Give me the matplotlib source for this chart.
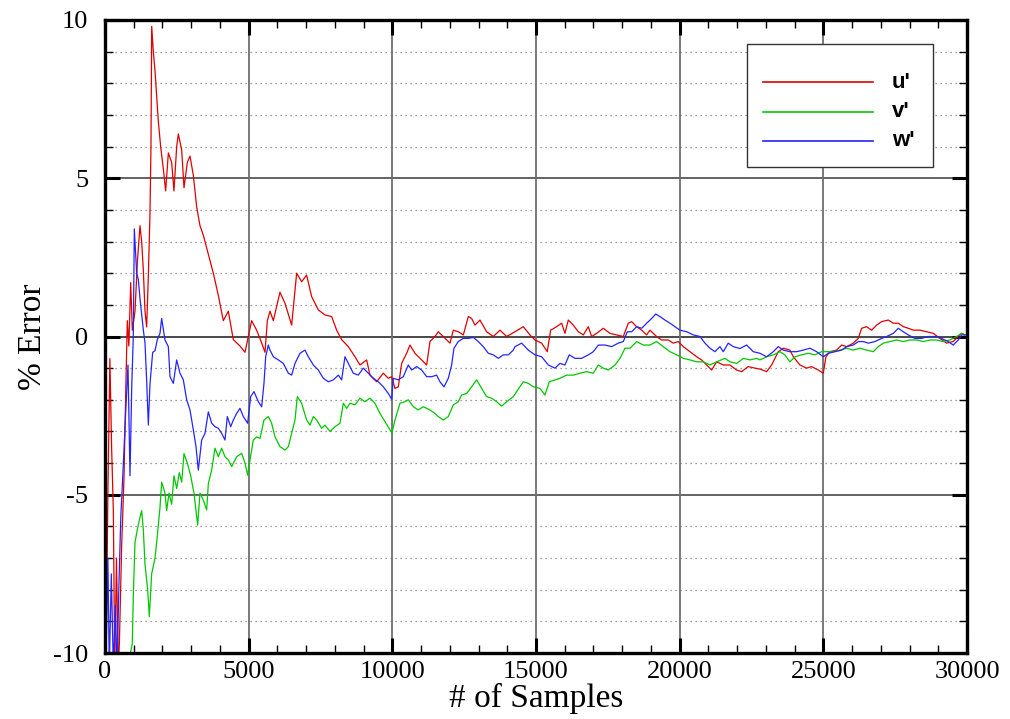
import matplotlib
matplotlib.use("Agg")
import matplotlib.pyplot as plt
from matplotlib.patches import Rectangle
from matplotlib.ticker import MultipleLocator

plt.rcParams["axes.unicode_minus"] = False

# ---------------- data ----------------
u_x = [30, 100, 170, 230, 290, 340, 400, 460, 500, 580, 660, 730, 777, 830, 894, 951, 1044, 1130, 1218, 1276,
       1334, 1392, 1450, 1508, 1566, 1600, 1625, 1682, 1740, 1856, 1937, 2030, 2110, 2205, 2320, 2400, 2495,
       2552, 2668, 2750, 2865, 2958, 3073, 3190, 3306, 3422, 3597, 3770, 3944, 4117, 4291, 4466, 4698, 4872,
       4988, 5104, 5278, 5452, 5568, 5650, 5742, 5858, 6090, 6264, 6496, 6670, 6844, 7018, 7192, 7424, 7656,
       7888, 8062, 8236, 8468, 8700, 8874, 9106, 9222, 9454, 9686, 9860, 9976, 10092, 10208, 10324, 10498,
       10614, 10788, 11020, 11195, 11310, 11484, 11600, 11774, 12006, 12122, 12296, 12470, 12644, 12760,
       12876, 13050, 13282, 13514, 13746, 13978, 14268, 14558, 14790, 14964, 15196, 15392, 15510, 15718,
       15892, 16008, 16124, 16298, 16472, 16646, 16820, 16936, 17110, 17342, 17574, 17806, 18038, 18212,
       18328, 18502, 18676, 18850, 18966, 19198, 19372, 19604, 19778, 19952, 20126, 20358, 20590, 20764,
       20938, 21112, 21286, 21518, 21750, 21982, 22156, 22388, 22620, 22794, 23026, 23200, 23432, 23606,
       23838, 23954, 24186, 24418, 24592, 24824, 24998, 25091, 25230, 25463, 25637, 25811, 26043, 26217,
       26333, 26507, 26681, 26855, 27029, 27261, 27435, 27609, 27783, 27957, 28131, 28362, 28594, 28826,
       29058, 29290, 29522, 29696, 29812, 29928]
u_y = [-10.5, -5, -0.7, -3.5, -5.5, -10.5, -7, -10.5, -9.7, -6.6, -4.5, -1.4, 0.5, -0.3, 1.7, 0.2, 0.8, 2.4, 3.5, 3.0,
       2.1, 0.8, 0.3, 1.9, 3.9, 6.0, 9.8, 9.0, 8.4, 6.8, 6.0, 5.3, 4.6, 5.8, 5.5, 4.6, 6.0,
       6.4, 5.9, 4.7, 5.5, 5.7, 5.1, 4.1, 3.5, 3.2, 2.6, 2.0, 1.3, 0.5, 0.8, -0.1, -0.3, -0.5,
       0.0, 0.5, 0.2, -0.2, -0.5, 0.5, 0.8, 0.5, 1.4, 1.05, 0.36, 2.0, 1.73, 1.94, 1.26, 0.84, 0.68,
       0.63, 0.2, -0.1, -0.32, -0.64, -0.9, -0.74, -1.22, -1.43, -1.16, -1.32, -1.27, -1.64, -1.59, -0.85, -0.53,
       -0.27, -0.53, -0.74, -0.9, -0.16, 0.0, 0.15, 0.0, -0.21, 0.2, 0.15, 0.05, 0.63, 0.57,
       0.36, 0.52, 0.15, 0.0, 0.2, 0.0, 0.15, 0.31, 0.05, -0.11, -0.21, -0.48, 0.2, 0.31,
       0.42, 0.1, 0.52, 0.36, 0.15, 0.05, 0.31, 0.0, 0.1, 0.26, 0.1, 0.05, 0.0, 0.42,
       0.47, 0.31, 0.2, 0.05, 0.2, 0.0, -0.11, -0.11, -0.21, -0.16, -0.32, -0.48, -0.64, -0.74,
       -0.9, -1.06, -0.8, -0.9, -0.9, -1.06, -1.11, -0.95, -1.0, -1.03, -1.11, -0.9, -0.48, -0.37,
       -0.43, -0.64, -0.9, -1.0, -0.95, -1.06, -1.16, -0.64, -0.48, -0.43, -0.27, -0.32, -0.21, -0.06,
       0.26, 0.31, 0.2, 0.36, 0.47, 0.52, 0.42, 0.42, 0.31, 0.26, 0.2, 0.2, 0.15, 0.1,
       -0.06, -0.21, -0.16, 0.0, 0.1, 0.05]

v_x = [780, 950, 985, 1044, 1125, 1195, 1276, 1334, 1392, 1485, 1543, 1624, 1740, 1821, 1914, 1972, 2088, 2146,
       2227, 2320, 2400, 2494, 2586, 2668, 2750, 2865, 2982, 3097, 3225, 3306, 3422, 3538, 3597, 3712, 3828,
       3944, 4060, 4176, 4292, 4408, 4582, 4756, 4872, 4965, 5046, 5162, 5278, 5394, 5533, 5684, 5800, 5916,
       6090, 6264, 6380, 6496, 6612, 6693, 6844, 7018, 7134, 7250, 7366, 7540, 7656, 7830, 8004, 8178, 8294,
       8410, 8526, 8700, 8874, 9048, 9222, 9396, 9570, 9744, 9918, 9988, 10092, 10266, 10440, 10556, 10730,
       10904, 11078, 11310, 11484, 11600, 11774, 11948, 12122, 12296, 12412, 12586, 12760, 12934, 13108,
       13282, 13456, 13630, 13804, 13978, 14210, 14442, 14558, 14732, 14906, 15138, 15312, 15462, 15660,
       15834, 16067, 16299, 16530, 16763, 16995, 17169, 17343, 17517, 17750, 17924, 18098, 18272, 18504,
       18736, 18966, 19198, 19430, 19662, 19895, 20127, 20358, 20591, 20823, 21054, 21287, 21576, 21750,
       21983, 22215, 22446, 22679, 22794, 23026, 23258, 23490, 23664, 23838, 24012, 24244, 24476, 24708,
       24940, 25114, 25346, 25578, 25811, 26043, 26274, 26507, 26739, 26913, 27087, 27318, 27551, 27783,
       28014, 28247, 28478, 28710, 28943, 29174, 29406, 29639, 29812, 29928]
v_y = [-10.5, -9.7, -8.2, -6.5, -6.1, -5.8, -5.5, -6.1, -7.2, -8.0, -8.85, -7.5, -7.0, -6.3, -5.4, -4.6, -4.95, -5.5,
       -4.95, -5.3, -4.4, -4.8, -4.3, -4.6, -3.7, -4.0, -4.4, -4.95, -5.96, -4.95, -5.17, -5.48, -4.64, -4.22, -3.53,
       -3.8, -3.53, -3.8, -3.9, -4.11, -3.8, -3.69, -4.0, -4.38, -3.9, -3.27, -3.17, -3.22, -2.64, -2.53, -2.74, -3.17,
       -3.48, -3.59, -3.48, -3.06, -2.64, -1.9, -2.11, -2.64, -2.8, -2.53, -2.64, -2.9, -2.8, -3.0, -2.85, -2.74, -2.11,
       -2.27, -2.11, -2.16, -1.95, -2.06, -1.95, -2.11, -2.43, -2.69, -2.95, -3.04, -2.64, -2.11, -2.06, -2.0, -2.22,
       -2.32, -2.22, -2.32, -2.43, -2.53, -2.64, -2.53, -2.16, -2.06, -1.85, -1.8, -1.59, -1.37, -1.64,
       -1.9, -1.95, -2.06, -2.2, -2.06, -1.9, -1.59, -1.43, -1.48, -1.59, -1.64, -1.85, -1.43, -1.37,
       -1.32, -1.22, -1.22, -1.16, -1.11, -1.16, -0.9, -1.0, -1.06, -0.9, -0.69, -0.37, -0.37, -0.16,
       -0.27, -0.27, -0.16, -0.32, -0.48, -0.58, -0.69, -0.74, -0.8, -0.8, -0.9, -0.8, -0.69, -0.8,
       -0.85, -0.69, -0.74, -0.69, -0.74, -0.64, -0.58, -0.48, -0.58, -0.8, -0.64, -0.58, -0.53, -0.58,
       -0.48, -0.48, -0.48, -0.43, -0.37, -0.43, -0.37, -0.43, -0.48, -0.32, -0.21, -0.16, -0.11, -0.16,
       -0.11, -0.11, -0.16, -0.11, -0.11, -0.16, -0.11, 0.0, 0.1, 0.05]

w_x = [30, 100, 150, 220, 290, 360, 420, 480, 550, 640, 730, 800, 870, 930, 985, 1020, 1102, 1160, 1218, 1276,
       1334, 1392, 1450, 1508, 1566, 1659, 1740, 1821, 1914, 1972, 2088, 2204, 2262, 2378, 2494, 2610, 2726,
       2842, 2958, 3074, 3167, 3248, 3364, 3480, 3596, 3712, 3828, 3944, 4060, 4176, 4257, 4374, 4466, 4582,
       4698, 4814, 4965, 5070, 5185, 5336, 5453, 5533, 5592, 5684, 5742, 5858, 6032, 6206, 6380, 6496, 6612,
       6786, 6960, 7076, 7250, 7424, 7598, 7772, 7946, 8120, 8236, 8352, 8468, 8642, 8816, 8990, 9164, 9338,
       9512, 9686, 9860, 9976, 10034, 10208, 10382, 10556, 10672, 10846, 11020, 11195, 11368, 11542, 11658,
       11797, 11948, 12064, 12145, 12296, 12470, 12644, 12818, 12992, 13166, 13340, 13514, 13688, 13862,
       14036, 14210, 14268, 14500, 14732, 14964, 15196, 15428, 15660, 15834, 16008, 16159, 16356, 16589,
       16820, 16995, 17169, 17400, 17633, 17864, 18038, 18177, 18330, 18504, 18678, 18852, 19026, 19165,
       19314, 19488, 19662, 19836, 20010, 20243, 20475, 20706, 20880, 21054, 21228, 21402, 21518, 21692,
       21866, 22098, 22330, 22562, 22794, 23026, 23258, 23432, 23606, 23838, 24070, 24302, 24534, 24766,
       24998, 25172, 25404, 25637, 25811, 26043, 26217, 26391, 26565, 26797, 27029, 27203, 27435, 27609,
       27783, 27957, 28188, 28420, 28652, 28884, 29116, 29348, 29522, 29696, 29812, 29928]
w_y = [-10.5, -7, -10.5, -7.5, -10.5, -8.5, -10.5, -8, -5.7, -4.0, -2.2, -0.9, -4.4, -1.6, 0.0, 3.4, 2.0, 1.8, 1.2, 0.7,
       0.2, -0.2, -1.4, -2.8, -1.5, -0.5, -0.45, -0.1, 0.1, 0.57, -0.11, -0.32, -1.27, -1.48, -0.74, -1.16, -1.37,
       -2.0, -2.32, -2.95, -3.48, -4.22, -3.27, -3.06, -2.38, -2.74, -2.85, -2.9, -3.06, -3.27, -2.53, -2.85, -2.64, -2.43,
       -2.27, -2.53, -2.74, -1.9, -1.74, -2.06, -2.22, -1.48, -0.64, -0.27, -0.43, -0.64, -0.74, -0.85, -1.16, -1.22, -0.85,
       -0.53, -0.43, -0.64, -0.9, -1.06, -1.32, -1.43, -1.37, -1.22, -1.37, -0.64, -0.85, -1.16, -1.22, -1.0, -1.16, -1.32,
       -1.43, -1.59, -1.8, -1.98, -1.32, -1.37, -1.27, -0.9, -1.06, -0.95, -1.06, -1.27, -1.27, -1.22, -1.43,
       -1.59, -1.32, -0.9, -0.37, -0.16, -0.06, -0.06, -0.03, -0.16, -0.32, -0.53, -0.58, -0.69, -0.58,
       -0.58, -0.43, -0.32, -0.21, -0.43, -0.58, -0.64, -0.9, -1.0, -0.85, -0.9, -0.58, -0.69, -0.69,
       -0.58, -0.48, -0.27, -0.27, -0.32, -0.21, -0.16, 0.15, 0.15, 0.31, 0.26, 0.42, 0.57, 0.71,
       0.63, 0.52, 0.42, 0.31, 0.2, 0.15, 0.05, 0.0, -0.21, -0.37, -0.48, -0.32, -0.48, -0.21,
       -0.32, -0.38, -0.27, -0.48, -0.53, -0.64, -0.48, -0.32, -0.43, -0.48, -0.48, -0.43, -0.37, -0.48,
       -0.64, -0.53, -0.48, -0.43, -0.32, -0.27, -0.16, -0.16, -0.21, -0.16, -0.06, 0.0, 0.1, 0.26,
       0.15, 0.05, -0.06, -0.06, 0.0, 0.0, -0.06, -0.16, -0.27, -0.11, 0.05, 0.05]

series_labels = ["u'", "v'", "w'"]
series_colors = ["#e00000", "#00c800", "#2424ff"]

x_ticks = [0, 5000, 10000, 15000, 20000, 25000, 30000]
y_ticks = [-10, -5, 0, 5, 10]

# ---------------- figure ----------------
fig = plt.figure(figsize=(10.10, 7.19), dpi=100)
ax = fig.add_axes([105 / 1010, 1 - 653 / 719, 862 / 1010, 633 / 719])

serif = ["Liberation Serif", "DejaVu Serif"]

# grids
for yv in range(-9, 10):
    if yv % 5 != 0:
        ax.axhline(yv, color="#808080", lw=0.9, ls=(0, (1, 3)), zorder=1)
for yv in (-5, 5):
    ax.axhline(yv, color="#3a3a3a", lw=1.1, zorder=1)
ax.axhline(0, color="#3a3a3a", lw=1.3, zorder=1)
for xv in x_ticks[1:-1]:
    ax.axvline(xv, color="#6e6e6e", lw=1.3, zorder=1)

for xs, ys, c, lab in zip((u_x, v_x, w_x), (u_y, v_y, w_y), series_colors, series_labels):
    ax.plot(xs, ys, color=c, lw=0.9, zorder=3, label=lab)

ax.set_xlim(0, 30000)
ax.set_ylim(-10, 10)
ax.set_xticks(x_ticks)
ax.set_yticks(y_ticks)
ax.xaxis.set_minor_locator(MultipleLocator(1000))
ax.yaxis.set_minor_locator(MultipleLocator(1))
ax.tick_params(which="major", direction="in", length=11, width=2.2,
               top=True, right=True, labelsize=19)
ax.tick_params(which="minor", direction="in", length=6, width=1.0,
               top=True, right=True)
ax.tick_params(axis="x", which="major", pad=6)
ax.tick_params(axis="y", which="major", pad=12)
for lbl in ax.get_xticklabels() + ax.get_yticklabels():
    lbl.set_fontfamily(serif)
for sp in ax.spines.values():
    sp.set_linewidth(2.4)
    sp.set_zorder(5)

ax.set_xlabel("# of Samples", fontsize=24, family=serif, labelpad=0)
ax.set_ylabel("% Error", fontsize=24, family=serif, labelpad=4)

# legend box drawn manually
def ax_fx(px):
    return (px - 105) / 862

def ax_fy(py):
    return (653 - py) / 633

ax.add_patch(Rectangle((ax_fx(747), ax_fy(167)), (933 - 747) / 862, (167 - 44) / 633,
                       transform=ax.transAxes, facecolor="white", edgecolor="#333333",
                       lw=1.0, zorder=6))
for i, (c, lab) in enumerate(zip(series_colors, series_labels)):
    yy = ax_fy(82 + i * 29.5)
    ax.plot([ax_fx(763), ax_fx(873)], [yy, yy], color=c, lw=1.2,
            transform=ax.transAxes, zorder=7, clip_on=False)
    ax.text(ax_fx(892), yy, lab, transform=ax.transAxes, fontsize=16,
            fontweight="bold", family=["Liberation Sans", "DejaVu Sans"],
            va="center", ha="left", zorder=7)

fig.savefig("out.png", dpi=100)
